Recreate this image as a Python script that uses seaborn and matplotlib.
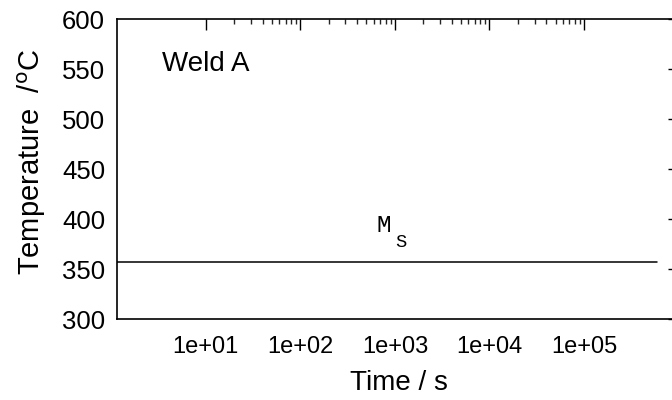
import numpy as np
import pandas as pd
import matplotlib
matplotlib.use("Agg")
import matplotlib.pyplot as plt
import seaborn as sns
from matplotlib.ticker import FixedLocator, NullFormatter, FixedFormatter

# Data
time_s = [1.0, 5.9e5]
temp_c = [357, 357]
x_major = [1e1, 1e2, 1e3, 1e4, 1e5]
x_labels = ["1e+01", "1e+02", "1e+03", "1e+04", "1e+05"]
y_major = [300, 350, 400, 450, 500, 550, 600]
y_labels = ["300", "350", "400", "450", "500", "550", "600"]

sns.set_theme(style="white")
plt.rcParams['font.family'] = ['Liberation Sans', 'DejaVu Sans']

W, H = 672, 400
fig = plt.figure(figsize=(W / 100, H / 100), dpi=100)
left, right, top, bottom = 117, 679, 19.3, 319.3
ax = fig.add_axes([left / W, 1 - bottom / H, (right - left) / W, (bottom - top) / H])

df = pd.DataFrame({"Time": time_s, "Temp": temp_c})
sns.lineplot(data=df, x="Time", y="Temp", ax=ax, color="black", linewidth=1.1)

ax.set_xscale("log")
ax.set_xlim(10 ** 0.061, 10 ** 6.005)
ax.set_ylim(300, 600)

ax.xaxis.set_major_locator(FixedLocator(x_major))
ax.xaxis.set_major_formatter(FixedFormatter(x_labels))
minor = [k * 10 ** d for d in range(1, 5) for k in range(2, 10)]
ax.xaxis.set_minor_locator(FixedLocator(minor))
ax.xaxis.set_minor_formatter(NullFormatter())
ax.yaxis.set_major_locator(FixedLocator(y_major))
ax.yaxis.set_major_formatter(FixedFormatter(y_labels))
ax.yaxis.set_minor_locator(FixedLocator([v for v in range(300, 601, 10) if v % 50]))

ax.tick_params(which="major", direction="in", length=8, width=1.0, top=True, right=True,
               colors="black")
ax.tick_params(axis="x", which="major", labelsize=17, pad=12)
ax.tick_params(axis="y", which="major", labelsize=18.5, pad=8.5)
ax.tick_params(which="minor", direction="in", length=3.6, width=1.0, top=True, right=True)
for s in ax.spines.values():
    s.set_linewidth(1.2)
    s.set_color("black")

ax.set_xlabel("Time / s", fontsize=20, color="black")
ax.set_ylabel(r"Temperature  /$^{\rm o}$C", fontsize=21, color="black")
ax.xaxis.set_label_coords(0.502, -0.168)
ax.yaxis.set_label_coords(-0.123, 0.526)

ax.text(3.41, 548, "Weld A", fontsize=20, ha="left", va="baseline", color="black")
ax.text(638, 387.3, "M", fontsize=17.5, family="Liberation Mono", ha="left", va="baseline",
        color="black", fontweight="medium")
ax.text(1012, 372.3, "S", fontsize=13.5, family="Liberation Mono", ha="left", va="baseline", color="black")

fig.savefig("out.png", dpi=100)
